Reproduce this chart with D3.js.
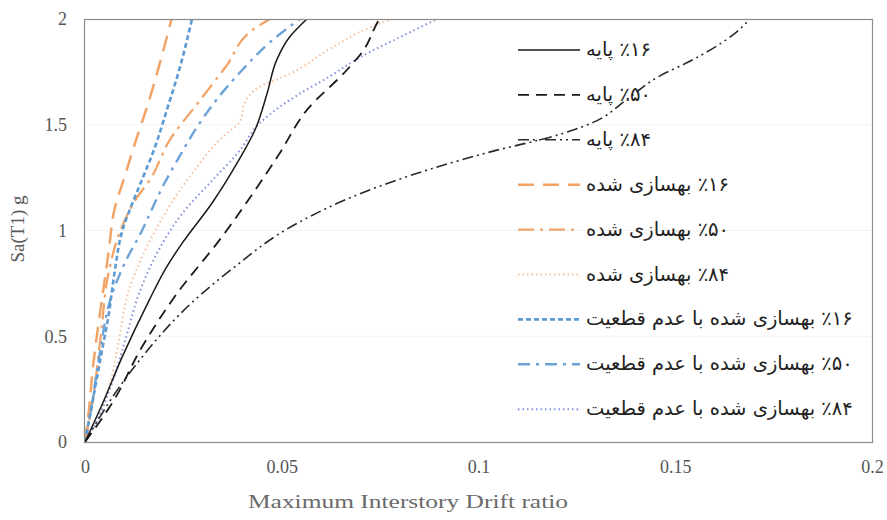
<!DOCTYPE html>
<html><head><meta charset="utf-8">
<script src="https://cdn.jsdelivr.net/npm/d3@7"></script>
<style>body{margin:0;background:#fff}svg{display:block}</style>
</head><body><svg id="c" width="887" height="520"></svg>
<script>
// ---- data (drift ratio, Sa(T1) g) ----
const base16 = [[0,0],[0.0043,0.175],[0.0094,0.40],[0.0163,0.67],[0.0205,0.82],[0.0247,0.94],[0.0323,1.13],[0.039,1.33],[0.0432,1.475],[0.0463,1.65],[0.0488,1.81],[0.052,1.915],[0.0564,2.0]];
const base50 = [[0,0],[0.0069,0.184],[0.0145,0.45],[0.0229,0.69],[0.0348,0.97],[0.0432,1.19],[0.0493,1.36],[0.0564,1.57],[0.0666,1.76],[0.0707,1.85],[0.0742,1.98],[0.0748,2.0]];
const base84 = [[0,0],[0.0119,0.34],[0.029,0.69],[0.0368,0.81],[0.054,1.035],[0.0707,1.18],[0.0877,1.29],[0.1047,1.38],[0.118,1.44],[0.129,1.51],[0.1377,1.62],[0.146,1.73],[0.1537,1.80],[0.165,1.93],[0.169,2.0]];
const ret16 = [[0,0],[0.001,0.15],[0.002,0.35],[0.003,0.5],[0.0045,0.7],[0.006,0.9],[0.0075,1.1],[0.01,1.25],[0.013,1.43],[0.0157,1.58],[0.019,1.79],[0.022,2.0]];
const ret50 = [[0,0],[0.002,0.2],[0.004,0.5],[0.006,0.8],[0.009,1.0],[0.013,1.15],[0.0165,1.24],[0.0216,1.43],[0.029,1.61],[0.036,1.78],[0.0427,1.95],[0.047,2.0]];
const ret84 = [[0,0],[0.003,0.1],[0.006,0.25],[0.0086,0.48],[0.0112,0.72],[0.0145,0.875],[0.0203,1.08],[0.0272,1.27],[0.0348,1.44],[0.0395,1.52],[0.0405,1.6],[0.0445,1.68],[0.052,1.74],[0.0623,1.86],[0.0724,1.96],[0.078,2.0]];
const unc16 = [[0,0],[0.001,0.1],[0.0025,0.25],[0.0043,0.43],[0.006,0.6],[0.0075,0.8],[0.0095,1.0],[0.0125,1.15],[0.0147,1.25],[0.0175,1.38],[0.0208,1.57],[0.0241,1.77],[0.0272,2.0]];
const unc50 = [[0,0],[0.0015,0.15],[0.0036,0.4],[0.0069,0.7],[0.0102,0.85],[0.0145,1.0],[0.017,1.10],[0.0198,1.21],[0.0234,1.33],[0.0285,1.49],[0.0335,1.62],[0.040,1.76],[0.047,1.89],[0.0546,2.0]];
const unc84 = [[0,0],[0.003,0.1],[0.0069,0.28],[0.0102,0.48],[0.0137,0.70],[0.0152,0.77],[0.0188,0.91],[0.0247,1.08],[0.033,1.25],[0.039,1.37],[0.0445,1.51],[0.054,1.64],[0.0623,1.73],[0.070,1.82],[0.0818,1.93],[0.0895,2.0]];

const seriesNames = ["٪۱۶ پایه","٪۵۰ پایه","٪۸۴ پایه","٪۱۶ بهسازی شده","٪۵۰ بهسازی شده","٪۸۴ بهسازی شده","٪۱۶ بهسازی شده با عدم قطعیت","٪۵۰ بهسازی شده با عدم قطعیت","٪۸۴ بهسازی شده با عدم قطعیت"];
const seriesData = [base16, base50, base84, ret16, ret50, ret84, unc16, unc50, unc84];
const xTicks = [0, 0.05, 0.1, 0.15, 0.2];
const yTicks = [0, 0.5, 1, 1.5, 2];
const xTitle = "Maximum  Interstory Drift ratio";
const yTitle = "Sa(T1) g";

// ---- styles ----
const styles = [
  {color:"#1a1a1a", w:1.5, dash:null},
  {color:"#1a1a1a", w:1.8, dash:"11 7"},
  {color:"#2a2a2a", w:1.6, dash:"11 4 2 4 2 4"},
  {color:"#f2a468", w:2.5, dash:"16 9"},
  {color:"#f2a468", w:2.3, dash:"16 6 3 6"},
  {color:"#f6bf9c", w:2, dash:"1.5 3"},
  {color:"#5b9bd5", w:2.6, dash:"5 3"},
  {color:"#6fa3d8", w:2.4, dash:"12 6 3 6"},
  {color:"#8290dc", w:2, dash:"1.5 3"}
];

const svg = d3.select("#c");
const L = 85, R = 872, T = 19, B = 442;
const x = d3.scaleLinear().domain([0,0.2]).range([L,R]);
const y = d3.scaleLinear().domain([0,2]).range([B,T]);

// faint gridlines
svg.append("g").selectAll("line").data(yTicks.slice(1,4)).join("line")
  .attr("x1",L).attr("x2",R).attr("y1",d=>y(d)).attr("y2",d=>y(d))
  .attr("stroke","#f3f3f3").attr("stroke-width",1);

svg.append("defs").append("clipPath").attr("id","clip")
  .append("rect").attr("x",L).attr("y",T).attr("width",R-L).attr("height",B-T);

const line = d3.line().x(d=>x(d[0])).y(d=>y(d[1])).curve(d3.curveMonotoneY);
const gL = svg.append("g").attr("clip-path","url(#clip)");
const order = [5,8,4,7,3,6,2,1,0];
order.forEach(i=>{
  gL.append("path").datum(seriesData[i]).attr("d",line)
    .attr("fill","none").attr("stroke",styles[i].color).attr("stroke-width",styles[i].w)
    .attr("stroke-dasharray",styles[i].dash).attr("stroke-linejoin","round");
});

// frame
svg.append("rect").attr("x",L-0.5).attr("y",T+0.5).attr("width",R-L+1).attr("height",B-T)
  .attr("fill","none").attr("stroke","#8c8c8c").attr("stroke-width",1.2);

// axes
const xAxis = d3.axisBottom(x).tickValues(xTicks).tickSize(0).tickPadding(18).tickFormat(d3.format("~g"));
const gx = svg.append("g").attr("transform",`translate(0,${B})`).call(xAxis);
gx.select(".domain").remove();
gx.selectAll("text").attr("font-family","Liberation Serif").attr("font-size",18).attr("fill","#555");

const yAxis = d3.axisLeft(y).tickValues(yTicks).tickSize(0).tickPadding(18).tickFormat(d3.format("~g"));
const gy = svg.append("g").attr("transform",`translate(${L},0)`).call(yAxis);
gy.select(".domain").remove();
gy.selectAll("text").attr("font-family","Liberation Serif").attr("font-size",18).attr("fill","#555");

svg.append("text").attr("x",408).attr("y",508).attr("text-anchor","middle")
  .attr("font-family","Liberation Serif").attr("font-size",19).attr("fill","#6a6a6a")
  .attr("textLength",320).attr("lengthAdjust","spacingAndGlyphs").text(xTitle);
svg.append("text").attr("transform","translate(24,229) rotate(-90)").attr("text-anchor","middle")
  .attr("font-family","Liberation Serif").attr("font-size",19).attr("fill","#595959").text(yTitle);

// legend
const legY0 = 50, legDy = 44.9;
const lg = svg.append("g");
seriesNames.forEach((name,i)=>{
  const yy = legY0 + i*legDy;
  lg.append("line").attr("x1",518).attr("x2",580).attr("y1",yy).attr("y2",yy)
    .attr("stroke",styles[i].color).attr("stroke-width",styles[i].w).attr("stroke-dasharray",styles[i].dash);
  lg.append("text").attr("x",586).attr("y",yy+6).attr("text-anchor","start")
    .attr("font-family","DejaVu Sans").attr("font-size",19.5).attr("fill","#222")
    .text("\u202B" + name + "\u202C");
});
</script></body></html>
